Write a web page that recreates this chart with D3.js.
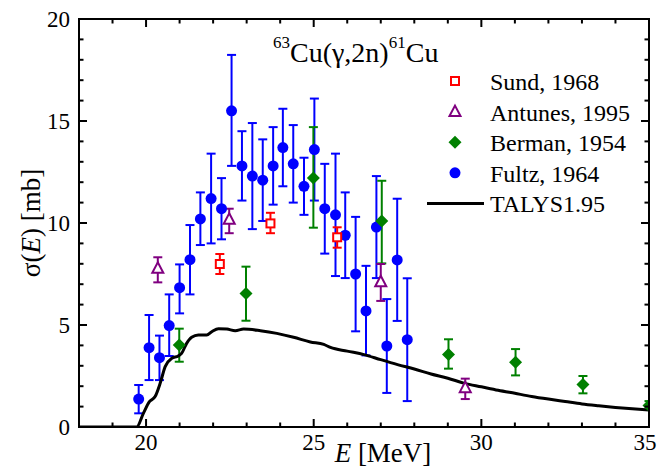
<!DOCTYPE html>
<html><head><meta charset="utf-8">
<script src="https://cdn.jsdelivr.net/npm/d3@7"></script>
<style>
body{margin:0;background:#fff;}
svg{display:block;font-family:"Liberation Serif","Times New Roman",serif;}
</style></head>
<body>
<svg id="chart" width="658" height="468"></svg>
<script>
// ---- data ----
const sundE   = [22.2, 23.71, 25.7];
const sundY   = [7.99, 9.98, 9.3];
const sundLo  = [7.5, 9.5, 8.79];
const sundHi  = [8.48, 10.5, 9.79];

const antE    = [20.35, 22.48, 27.0, 29.52];
const antY    = [7.78, 10.18, 7.12, 1.93];
const antLo   = [7.09, 9.5, 6.18, 1.37];
const antHi   = [8.32, 10.7, 7.99, 2.37];

const bermE   = [20.99, 22.98, 24.99, 27.03, 29.02, 31.02, 33.03, 35.0];
const bermY   = [4.02, 6.55, 12.2, 10.1, 3.56, 3.17, 2.08, 1.06];
const bermLo  = [3.2, 5.21, 9.77, 8.02, 2.86, 2.53, 1.65, 0.85];
const bermHi  = [4.82, 7.86, 14.7, 12.07, 4.3, 3.82, 2.5, 1.27];

const fultzE  = [19.78, 20.09, 20.40, 20.69, 21.00, 21.31, 21.62, 21.94, 22.25, 22.55, 22.86, 23.17, 23.48, 23.79, 24.08, 24.39, 24.71, 25.02, 25.33, 25.65, 25.94, 26.25, 26.56, 26.87, 27.18, 27.49, 27.79];
const fultzY  = [1.37, 3.89, 3.4, 4.97, 6.83, 8.2, 10.2, 11.2, 10.7, 15.5, 12.8, 12.3, 12.1, 12.8, 13.7, 12.9, 11.8, 13.6, 10.7, 10.4, 9.4, 7.5, 5.69, 9.8, 3.97, 8.19, 4.28];
const fultzLo = [0.67, 2.3, 2.3, 3.48, 5.57, 6.5, 8.92, 9.0, 9.2, 12.8, 11.1, 9.7, 10.1, 10.9, 11.8, 11.0, 10.4, 11.1, 8.5, 7.4, 7.3, 4.69, 3.51, 7.3, 1.67, 5.2, 1.27];
const fultzHi = [2.06, 5.49, 4.48, 6.5, 7.97, 9.9, 11.5, 13.4, 12.2, 18.24, 14.5, 14.9, 14.1, 14.7, 15.6, 14.8, 13.2, 16.1, 12.9, 13.4, 11.5, 10.3, 7.9, 12.3, 6.27, 11.19, 7.29];

const talysE  = [18.0, 19.72, 19.92, 20.1, 20.27, 20.42, 20.57, 20.77, 20.96, 21.06, 21.21, 21.36, 21.56, 21.81, 21.96, 22.16, 22.41, 22.66, 22.91, 23.41, 23.9, 24.4, 24.9, 25.3, 25.5, 26.0, 26.5, 27.0, 27.5, 28.0, 28.5, 29.0, 29.5, 30.0, 30.5, 31.0, 31.5, 32.0, 32.5, 33.0, 33.5, 34.0, 34.5, 35.0];
const talysY  = [0, 0, 0.67, 1.24, 1.49, 2.14, 2.96, 3.37, 3.48, 3.61, 4.1, 4.4, 4.51, 4.51, 4.67, 4.82, 4.8, 4.72, 4.8, 4.72, 4.59, 4.4, 4.17, 4.05, 3.9, 3.72, 3.55, 3.3, 3.06, 2.84, 2.6, 2.39, 2.14, 1.97, 1.8, 1.65, 1.5, 1.37, 1.25, 1.13, 1.04, 0.96, 0.89, 0.83];

const xTicks = [20, 25, 30, 35];
const yTicks = [0, 5, 10, 15, 20];
const legendLabels = ["Sund, 1968", "Antunes, 1995", "Berman, 1954", "Fultz, 1964", "TALYS1.95"];

// ---- layout ----
const svg = d3.select("#chart");
const L = 79, R = 649, T = 19, B = 427;
const x = d3.scaleLinear().domain([18, 35]).range([L, R]);
const y = d3.scaleLinear().domain([0, 20]).range([B, T]);

svg.append("defs").append("clipPath").attr("id","clip")
  .append("rect").attr("x",L).attr("y",T).attr("width",R-L).attr("height",B-T);

const plot = svg.append("g").attr("clip-path","url(#clip)");

function zip(E, Y, Lo, Hi){ return E.map((e,i)=>({e, v:Y[i], lo:Lo[i], hi:Hi[i]})); }
const sund = zip(sundE, sundY, sundLo, sundHi);
const ant = zip(antE, antY, antLo, antHi);
const berm = zip(bermE, bermY, bermLo, bermHi);
const fultz = zip(fultzE, fultzY, fultzLo, fultzHi);

function errBars(data, color){
  const g = plot.append("g").attr("stroke", color).attr("stroke-width", 2).attr("fill","none");
  data.forEach(d=>{
    const cx = x(d.e);
    g.append("line").attr("x1",cx).attr("x2",cx).attr("y1",y(d.lo)).attr("y2",y(d.hi));
    g.append("line").attr("x1",cx-4.5).attr("x2",cx+4.5).attr("y1",y(d.lo)).attr("y2",y(d.lo));
    g.append("line").attr("x1",cx-4.5).attr("x2",cx+4.5).attr("y1",y(d.hi)).attr("y2",y(d.hi));
  });
}
errBars(fultz, "#0000ff");
errBars(berm, "#008000");
errBars(ant, "#800080");
errBars(sund, "#ff0000");

// TALYS line
const line = d3.line().x((d,i)=>x(talysE[i])).y(d=>y(d)).curve(d3.curveMonotoneX);
plot.append("path").attr("d", line(talysY)).attr("fill","none").attr("stroke","#000").attr("stroke-width",3);

// markers
function sq(g, cx, cy){ g.append("rect").attr("x",cx-4).attr("y",cy-4).attr("width",8).attr("height",8)
  .attr("fill","#fff").attr("stroke","#ff0000").attr("stroke-width",2); }
function tri(g, cx, cy){ g.append("path").attr("d",`M${cx},${cy-6} L${cx+5.5},${cy+4.5} L${cx-5.5},${cy+4.5} Z`)
  .attr("fill","#fff").attr("stroke","#800080").attr("stroke-width",2); }
function dia(g, cx, cy){ g.append("path").attr("d",`M${cx},${cy-6.5} L${cx+6.5},${cy} L${cx},${cy+6.5} L${cx-6.5},${cy} Z`)
  .attr("fill","#008000"); }
function circ(g, cx, cy){ g.append("circle").attr("cx",cx).attr("cy",cy).attr("r",5.5).attr("fill","#0000ff"); }

const mk = plot.append("g");
fultz.forEach(d=>circ(mk, x(d.e), y(d.v)));
berm.forEach(d=>dia(mk, x(d.e), y(d.v)));
ant.forEach(d=>tri(mk, x(d.e), y(d.v)));
sund.forEach(d=>sq(mk, x(d.e), y(d.v)));

// axes
const ax = svg.append("g").attr("stroke","#000").attr("stroke-width",2);
ax.append("rect").attr("x",L).attr("y",T).attr("width",R-L).attr("height",B-T).attr("fill","none");
d3.range(18, 35.01, 1).forEach(v=>{
  const len = (v % 5 === 0) ? 8 : 4.5;
  ax.append("line").attr("x1",x(v)).attr("x2",x(v)).attr("y1",B).attr("y2",B-len);
  ax.append("line").attr("x1",x(v)).attr("x2",x(v)).attr("y1",T).attr("y2",T+len);
});
d3.range(0, 20.01, 1).forEach(v=>{
  const len = (v % 5 === 0) ? 8 : 4.5;
  ax.append("line").attr("x1",L).attr("x2",L+len).attr("y1",y(v)).attr("y2",y(v));
  ax.append("line").attr("x1",R).attr("x2",R-len).attr("y1",y(v)).attr("y2",y(v));
});

const txt = svg.append("g").attr("fill","#000");
xTicks.forEach(v=>{
  const px = Math.min(x(v), 645);
  txt.append("text").attr("x",px).attr("y",450).attr("text-anchor","middle").attr("font-size",23).text(v);
});
yTicks.forEach(v=>{
  txt.append("text").attr("x",70).attr("y",y(v)+8).attr("text-anchor","end").attr("font-size",23).text(v);
});

// axis titles
const xt = txt.append("text").attr("x",383).attr("y",462).attr("text-anchor","middle").attr("font-size",27);
xt.append("tspan").attr("font-style","italic").text("E");
xt.append("tspan").text(" [MeV]");
const yt = txt.append("text").attr("transform","translate(40,223) rotate(-90)").attr("text-anchor","middle").attr("font-size",27);
yt.append("tspan").text("σ(");
yt.append("tspan").attr("font-style","italic").text("E");
yt.append("tspan").text(") [mb]");

// title
const tt = txt.append("text").attr("x",273).attr("y",62).attr("font-size",28);
tt.append("tspan").attr("font-size",17).attr("dy",-14).text("63");
tt.append("tspan").attr("dy",14).text("Cu(γ,2n)");
tt.append("tspan").attr("font-size",17).attr("dy",-14).text("61");
tt.append("tspan").attr("dy",14).text("Cu");

// legend
const lg = svg.append("g");
const ly0 = 81, ldy = 30.6, lmx = 455;
sq(lg, lmx, ly0);
tri(lg, lmx, ly0+ldy);
dia(lg, lmx, ly0+2*ldy);
circ(lg, lmx, ly0+3*ldy);
lg.append("line").attr("x1",427).attr("x2",484).attr("y1",ly0+4*ldy).attr("y2",ly0+4*ldy).attr("stroke","#000").attr("stroke-width",3);
legendLabels.forEach((t,i)=>{
  lg.append("text").attr("x",490).attr("y",ly0+i*ldy+9).attr("font-size",24).text(t);
});
</script>
</body></html>
